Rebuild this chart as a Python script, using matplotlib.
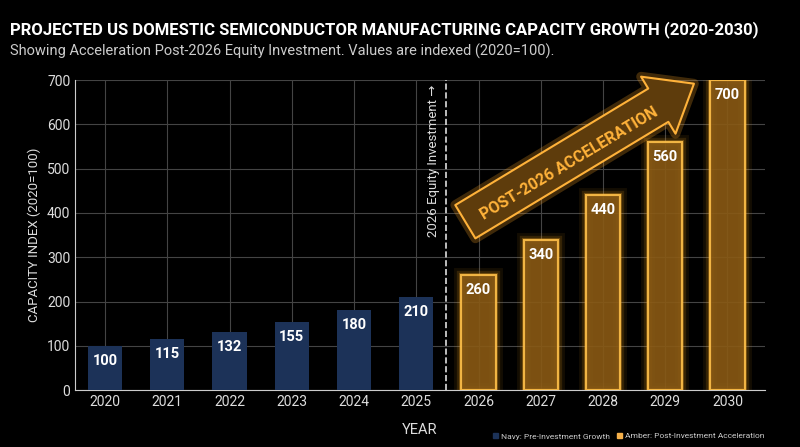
import matplotlib
matplotlib.use("Agg")
import matplotlib.pyplot as plt
from matplotlib.patches import Patch
import matplotlib.patheffects as pe

plt.rcParams['font.family'] = ['Roboto', 'DejaVu Sans']

years = ["2020","2021","2022","2023","2024","2025","2026","2027","2028","2029","2030"]
values = [100,115,132,155,180,210,260,340,440,560,700]
n_pre = 6

fig = plt.figure(figsize=(8,4.47), dpi=100, facecolor="black")
ax = fig.add_axes([0.094, 0.127, 0.862, 0.694], facecolor="black")
x = list(range(len(years)))
navy = "#1c3258"; amber = "#f5a623"
for i, v in enumerate(values):
    if i < n_pre:
        ax.bar(i, v, width=0.55, color=navy, zorder=3)
    else:
        for lw, a in [(10,0.08),(6,0.15),(3,0.3)]:
            ax.bar(i, v, width=0.55, facecolor="none", edgecolor=amber, linewidth=lw, alpha=a, zorder=3)
        ax.bar(i, v, width=0.55, facecolor="#8a5a14", edgecolor="#ffc04a", linewidth=1.5, alpha=0.9, zorder=4)
    ax.text(i, v-18, str(v), ha="center", va="top", color="white", fontsize=10.5, fontweight="bold", zorder=5)

ax.set_xlim(-0.48, 10.6)
ax.set_ylim(0, 700)
ax.set_xticks(x); ax.set_xticklabels(years)
ax.set_yticks(range(0, 701, 100))
ax.tick_params(colors="#dddddd", labelsize=10, length=0)
ax.grid(True, color="#444444", linewidth=0.8, zorder=0)
ax.set_axisbelow(True)
for s in ["top","right"]:
    ax.spines[s].set_visible(False)
ax.spines["bottom"].set_color("#cccccc"); ax.spines["left"].set_color("#cccccc")
ax.set_xlabel("YEAR", color="#dddddd", fontsize=10.5, labelpad=10)
ax.set_ylabel("CAPACITY INDEX (2020=100)", color="#dddddd", fontsize=9.5)

ax.axvline(5.47, color="#dddddd", linestyle="--", linewidth=1.2, zorder=2)
ax.text(5.27, 690, "2026 Equity Investment →", rotation=90, ha="center", va="top", color="#dddddd", fontsize=9.5)

ax.annotate("", xy=(9.5, 695), xytext=(5.75, 377),
            arrowprops=dict(arrowstyle="simple,head_width=2.4,head_length=1.5,tail_width=1.4",
                            mutation_scale=20,
                            facecolor="#5e3c0c", edgecolor="#ffb23a", linewidth=1.5,
                            path_effects=[pe.withStroke(linewidth=7, foreground=(1,0.65,0.15,0.25))]),
            zorder=6, annotation_clip=False)
ax.text(7.45, 512, "POST-2026 ACCELERATION", rotation=31, ha="center", va="center",
        color="#ffb23a", fontsize=11.5, fontweight="bold", zorder=7, rotation_mode="anchor")

fig.text(0.012, 0.935, "PROJECTED US DOMESTIC SEMICONDUCTOR MANUFACTURING CAPACITY GROWTH (2020-2030)",
         color="white", fontsize=12, fontweight="bold", va="center")
fig.text(0.012, 0.885, "Showing Acceleration Post-2026 Equity Investment. Values are indexed (2020=100).",
         color="#cccccc", fontsize=10.5, va="center")

handles = [Patch(color=navy, label="Navy: Pre-Investment Growth"),
           Patch(color="#f5b04a", label="Amber: Post-Investment Acceleration")]
fig.legend(handles=handles, loc="lower right", bbox_to_anchor=(0.965, 0.0), ncol=2, frameon=False,
           fontsize=6, labelcolor="#cccccc", handlelength=0.6, handleheight=0.6, columnspacing=0.8,
           handletextpad=0.4)
fig.savefig("out.png", facecolor="black")
